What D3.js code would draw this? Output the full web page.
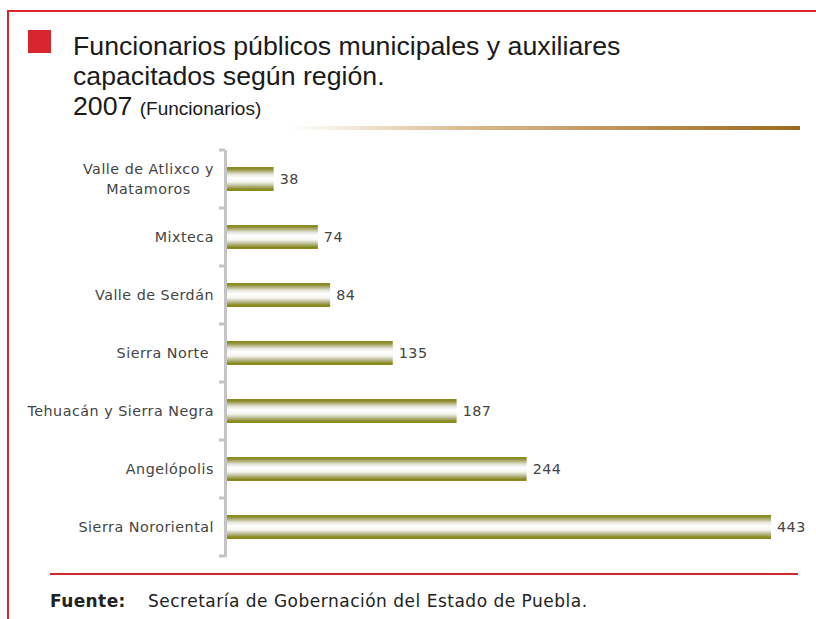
<!DOCTYPE html>
<html><head><meta charset="utf-8">
<script src="https://cdn.jsdelivr.net/npm/d3@7"></script>
<style>body{margin:0;background:#fff}svg{display:block}text{white-space:pre}</style>
</head><body>
<svg id="c" width="816" height="619"></svg>
<script>
const categories = ["Valle de Atlixco y\nMatamoros","Mixteca","Valle de Serdán","Sierra Norte ","Tehuacán y Sierra Negra","Angelópolis","Sierra Nororiental"];
const values = [38,74,84,135,187,244,443];
const titleLines = ["Funcionarios públicos municipales y auxiliares","capacitados según región."];
const titleYear = "2007";
const titleUnit = "(Funcionarios)";
const sourceLabel = "Fuente:";
const sourceText = "Secretaría de Gobernación del Estado de Puebla.";

const svg = d3.select("#c");
const defs = svg.append("defs");
const g1 = defs.append("linearGradient").attr("id","bar").attr("x1",0).attr("x2",0).attr("y1",0).attr("y2",1);
[[0,"#7a7a00"],[0.12,"#9c9c50"],[0.3,"#e4e4da"],[0.45,"#ffffff"],[0.62,"#f6f6f0"],[0.8,"#b4b488"],[0.93,"#8a8a20"],[1,"#7a7a00"]]
  .forEach(([o,c])=>g1.append("stop").attr("offset",o).attr("stop-color",c));
const g2 = defs.append("linearGradient").attr("id","rule").attr("x1",0).attr("x2",1).attr("y1",0).attr("y2",0);
[[0,"#ffffff"],[0.35,"#d9b98e"],[1,"#9a6a1e"]].forEach(([o,c])=>g2.append("stop").attr("offset",o).attr("stop-color",c));

const red = "#d8262f";
// frame
svg.append("path").attr("d","M8,619 V11 H816").attr("fill","none").attr("stroke",red).attr("stroke-width",2);
// title
svg.append("rect").attr("x",28).attr("y",30).attr("width",23).attr("height",23).attr("fill",red);
const tf = "'Liberation Sans Narrow','Liberation Sans',Arial,sans-serif";
titleLines.forEach((t,i)=>svg.append("text").attr("x",73).attr("y",55+i*30).attr("font-family",tf).attr("font-size",26.7).attr("fill","#1a1a1a").text(t));
const ty = svg.append("text").attr("x",73).attr("y",115).attr("font-family",tf).attr("fill","#1a1a1a");
ty.append("tspan").attr("font-size",26.7).text(titleYear+" ");
ty.append("tspan").attr("font-size",19).text(titleUnit);
svg.append("rect").attr("x",290).attr("y",126).attr("width",510).attr("height",4).attr("fill","url(#rule)");

// chart
const x = d3.scaleLinear().domain([0,443]).range([227,771]);
const y = d3.scaleBand().domain(categories).range([150,556]).paddingInner(0.59).paddingOuter(0.295);
const step = y.step();
const lf = "'DejaVu Sans',Verdana,sans-serif";

// axis
const ax = svg.append("g").attr("stroke","#c4c4c4").attr("stroke-width",3).attr("fill","none");
ax.append("line").attr("x1",225.5).attr("x2",225.5).attr("y1",y.range()[0]).attr("y2",y.range()[1]+1);
const bounds = d3.range(categories.length+1).map(i=>y.range()[0]+i*step);
ax.selectAll("line.t").data(bounds).join("line").attr("class","t")
  .attr("x1",219).attr("x2",225).attr("y1",d=>d).attr("y2",d=>d);

svg.selectAll("rect.bar").data(values).join("rect").attr("class","bar")
  .attr("x",x(0)).attr("y",(d,i)=>y(categories[i])).attr("width",d=>x(d)-x(0)).attr("height",y.bandwidth())
  .attr("fill","url(#bar)");

svg.selectAll("text.val").data(values).join("text").attr("class","val")
  .attr("x",d=>x(d)+6).attr("y",(d,i)=>y(categories[i])+y.bandwidth()/2+5)
  .attr("font-family",lf).attr("font-size",14.3).attr("letter-spacing",0.5).attr("fill","#444").text(d=>d);

const labelRight = 214;
categories.forEach((c,i)=>{
  const lines = c.split("\n");
  const cy = y(c)+y.bandwidth()/2;
  const t = svg.append("text").attr("font-family",lf).attr("font-size",14.3).attr("letter-spacing",0.5).attr("fill","#444");
  const spans = lines.map((l,j)=>t.append("tspan").attr("y",cy+5+(j-(lines.length-1)/2)*20).text(l));
  if (lines.length === 1) {
    t.attr("text-anchor","end"); spans[0].attr("x",labelRight);
  } else {
    const w = d3.max(spans, s=>s.node().getComputedTextLength());
    t.attr("text-anchor","middle"); spans.forEach(s=>s.attr("x",labelRight - w/2));
  }
});

// footer
svg.append("line").attr("x1",50).attr("x2",798).attr("y1",574).attr("y2",574).attr("stroke",red).attr("stroke-width",2);
const ff = "'DejaVu Sans',Verdana,sans-serif";
svg.append("text").attr("x",50).attr("y",607).attr("font-family",ff).attr("font-size",17).attr("font-weight","bold").attr("letter-spacing",0.4).attr("fill","#222").text(sourceLabel);
svg.append("text").attr("x",148).attr("y",607).attr("font-family",ff).attr("font-size",17).attr("letter-spacing",0.5).attr("fill","#222").text(sourceText);
</script>
</body></html>
